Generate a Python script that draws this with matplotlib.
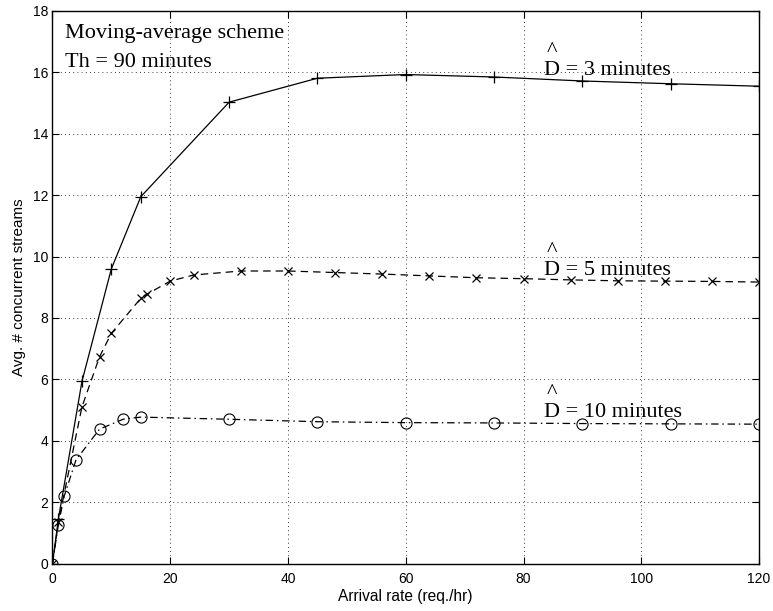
import matplotlib
matplotlib.use("Agg")
import matplotlib.pyplot as plt

# Arrival rate (req./hr) and average number of concurrent streams per scheme
x_d3 = [0, 1, 5, 10, 15, 30, 45, 60, 75, 90, 105, 120]
y_d3 = [0, 1.45, 5.93, 9.6, 11.95, 15.03, 15.81, 15.93, 15.85, 15.72, 15.63, 15.55]

x_d5 = [0, 1, 5, 8, 10, 15, 16, 20, 24, 32, 40, 48, 56, 64, 72, 80, 88, 96, 104, 112, 120]
y_d5 = [0, 1.35, 5.1, 6.74, 7.5, 8.64, 8.77, 9.2, 9.4, 9.53, 9.53, 9.48, 9.43, 9.37,
        9.31, 9.28, 9.24, 9.21, 9.2, 9.19, 9.17]

x_d10 = [0, 1, 2, 4, 8, 12, 15, 30, 45, 60, 75, 90, 105, 120]
y_d10 = [0, 1.27, 2.2, 3.38, 4.38, 4.7, 4.77, 4.7, 4.62, 4.59, 4.58, 4.56, 4.55, 4.54]

x_ticks = [0, 20, 40, 60, 80, 100, 120]
y_ticks = [0, 2, 4, 6, 8, 10, 12, 14, 16, 18]

curve_labels = ["D = 3 minutes", "D = 5 minutes", "D = 10 minutes"]
label_y = [15.91, 9.39, 4.76]

fig = plt.figure(figsize=(7.73, 6.11), dpi=100)
ax = fig.add_axes([0.0679, 0.0777, 0.914, 0.9043])

lw = 0.9
ax.plot(x_d3, y_d3, color="black", linestyle="-", linewidth=lw,
        marker="+", markersize=8, markeredgewidth=0.9)
ax.plot(x_d5, y_d5, color="black", linestyle=(0, (6, 4)), linewidth=lw,
        marker="x", markersize=5.5, markeredgewidth=0.9)
ax.plot(x_d10, y_d10, color="black", linestyle=(0, (6, 3, 1.2, 3)), linewidth=lw,
        marker="o", markersize=8, markerfacecolor="none", markeredgewidth=0.8)

ax.set_xlim(0, 120)
ax.set_ylim(0, 18)
ax.set_xticks(x_ticks)
ax.set_yticks(y_ticks)

sans = ["Liberation Sans", "DejaVu Sans"]
ax.tick_params(direction="in", length=5, width=0.8, top=True, right=True,
               labelsize=10)
ax.tick_params(axis="x", pad=6)
ax.tick_params(axis="y", pad=3)
for lbl in ax.get_xticklabels() + ax.get_yticklabels():
    lbl.set_fontfamily(sans)

ax.grid(True, color="black", linestyle=(0, (1, 4)), linewidth=0.6)
for sp in ax.spines.values():
    sp.set_linewidth(1.0)

ax.set_xlabel("Arrival rate (req./hr)", fontsize=11.2, family=sans, labelpad=2)
ax.set_ylabel("Avg. # concurrent streams", fontsize=11, family=sans, labelpad=5)

serif = ["Liberation Serif", "DejaVu Serif"]
ax.text(2.1, 17.12, "Moving-average scheme", fontsize=16, family=serif,
        ha="left", va="baseline")
ax.text(2.1, 16.17, "Th = 90 minutes", fontsize=16, family=serif,
        ha="left", va="baseline")

# Curve labels with a hat placed above the D
for text, yb in zip(curve_labels, label_y):
    ax.text(83.5, yb, text, fontsize=16, family=serif, ha="left", va="baseline")
    ax.text(83.9, yb + 0.62, "^", fontsize=16, family=serif, ha="left", va="baseline")

fig.savefig("out.png", dpi=100)
